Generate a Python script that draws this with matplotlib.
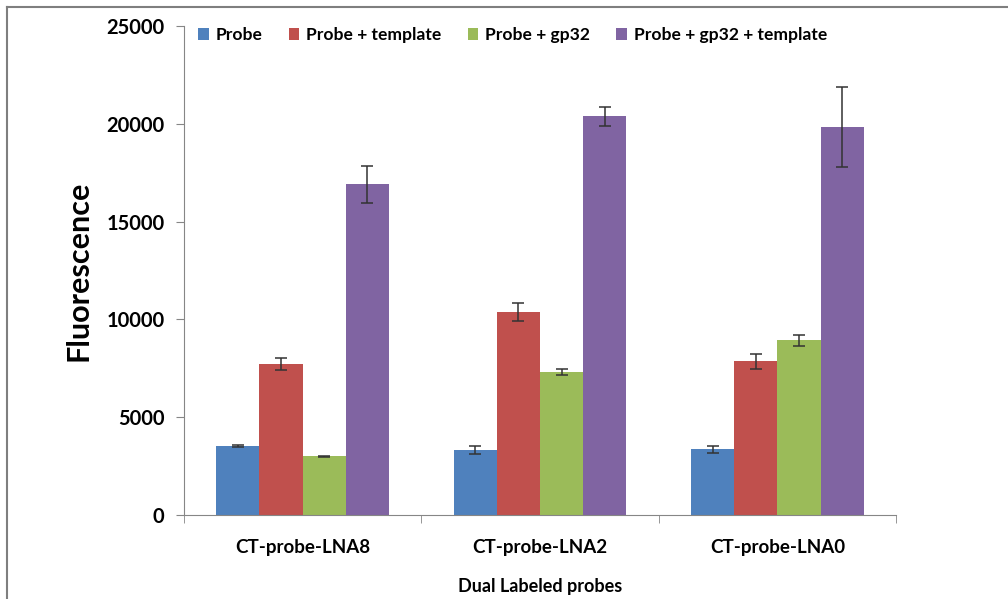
import numpy as np
import matplotlib.pyplot as plt
from matplotlib.lines import Line2D

plt.rcParams['font.family'] = ['Lato', 'DejaVu Sans']
plt.rcParams['font.weight'] = 'bold'

probes = ["CT-probe-LNA8", "CT-probe-LNA2", "CT-probe-LNA0"]
series = ["Probe", "Probe + template", "Probe + gp32", "Probe + gp32 + template"]
probe_only = [3550, 3320, 3370]
probe_template = [7720, 10380, 7870]
probe_gp32 = [3000, 7300, 8950]
probe_gp32_template = [16900, 20380, 19830]
err_probe = [60, 200, 180]
err_template = [300, 460, 380]
err_gp32 = [30, 150, 280]
err_gp32_template = [950, 490, 2030]

values = [probe_only, probe_template, probe_gp32, probe_gp32_template]
errors = [err_probe, err_template, err_gp32, err_gp32_template]
colors = ['#4F81BD', '#C0504D', '#9BBB59', '#8064A2']

fig = plt.figure(figsize=(10.08, 5.99), dpi=100)
ax = fig.add_axes([0.1825, 0.140, 0.7065, 0.8166])

x = np.arange(len(probes))
w = 0.182
for i in range(4):
	pos = x + (i - 1.5) * w
	ax.bar(pos, values[i], w, color=colors[i], label=series[i], zorder=2)
	ax.errorbar(pos, values[i], yerr=errors[i], fmt='none', ecolor='#333333',
		elinewidth=1.1, capsize=4, capthick=1.1, zorder=3)

ax.set_xlim(-0.5, 2.5)
ax.set_ylim(0, 25000)
ax.set_yticks(range(0, 25001, 5000))
ax.set_xticks(x)
ax.set_xticklabels(probes, fontsize=13.5, fontweight='bold')
ax.set_xticks([-0.5, 0.5, 1.5, 2.5], minor=True)
ax.tick_params(axis='x', which='major', length=0, pad=17)
ax.tick_params(axis='x', which='minor', length=6, color='#868686')
ax.tick_params(axis='y', length=6, color='#868686', labelsize=14.5, pad=8)
for lab in ax.get_yticklabels():
	lab.set_fontweight('bold')
for s in ['top', 'right']:
	ax.spines[s].set_visible(False)
for s in ['left', 'bottom']:
	ax.spines[s].set_color('#868686')
ax.set_ylabel("Fluorescence", fontsize=22, fontweight='bold', labelpad=10)
ax.set_xlabel("Dual Labeled probes", fontsize=13, fontweight='bold', labelpad=16)

leg = ax.legend(loc='upper left', bbox_to_anchor=(0.01, 1.012), ncol=4, frameon=False,
	fontsize=12.6, handlelength=0.6, handleheight=0.6, handletextpad=0.4,
	columnspacing=1.5, borderaxespad=0)
for t in leg.get_texts():
	t.set_fontweight('bold')

# outer frame, left and top only
fig.add_artist(Line2D([0.007, 0.007], [0, 0.988], transform=fig.transFigure, color='#7f7f7f', lw=1.5))
fig.add_artist(Line2D([0.007, 1.0], [0.988, 0.988], transform=fig.transFigure, color='#7f7f7f', lw=1.5))

fig.savefig("out.png", dpi=100)
